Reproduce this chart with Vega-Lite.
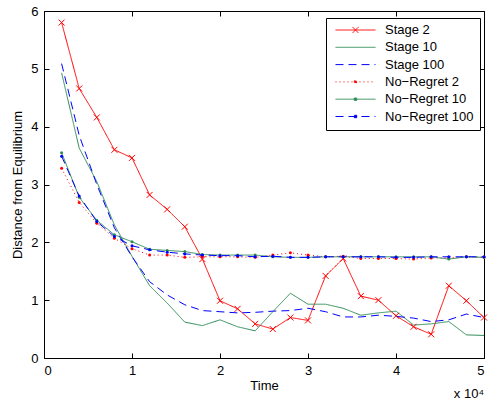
{
  "$schema": "https://vega.github.io/schema/vega-lite/v6.json",
  "width": 440,
  "height": 347,
  "autosize": {"type": "none"},
  "padding": {"left": 44, "top": 11, "right": 4, "bottom": 45},
  "background": "white",
  "config": {
    "font": "Liberation Sans",
    "view": {"stroke": "black", "strokeWidth": 1},
    "axis": {
      "grid": false,
      "domain": false,
      "tickColor": "black",
      "tickSize": -5,
      "tickWidth": 1,
      "labelColor": "black",
      "labelFont": "Liberation Sans",
      "labelFontSize": 13,
      "titleColor": "black",
      "titleFont": "Liberation Sans",
      "titleFontSize": 13,
      "titleFontWeight": "normal"
    },
    "legend": {
      "orient": "none",
      "legendX": 282,
      "legendY": 7,
      "strokeColor": "black",
      "fillColor": "white",
      "padding": 6,
      "labelFont": "Liberation Sans",
      "labelFontSize": 13,
      "labelColor": "black",
      "symbolSize": 1600,
      "clipHeight": 12,
      "rowPadding": 4.3,
      "symbolOffset": 3,
      "labelOffset": 9,
      "symbolStrokeWidth": 1
    }
  },
  "data": {
    "values": [
      {"series": "Stage 2", "time": 0.2, "dist": 5.80},
      {"series": "Stage 2", "time": 0.4, "dist": 4.66},
      {"series": "Stage 2", "time": 0.6, "dist": 4.16},
      {"series": "Stage 2", "time": 0.8, "dist": 3.60},
      {"series": "Stage 2", "time": 1.0, "dist": 3.46},
      {"series": "Stage 2", "time": 1.2, "dist": 2.82},
      {"series": "Stage 2", "time": 1.4, "dist": 2.57},
      {"series": "Stage 2", "time": 1.6, "dist": 2.27},
      {"series": "Stage 2", "time": 1.8, "dist": 1.71},
      {"series": "Stage 2", "time": 2.0, "dist": 0.99},
      {"series": "Stage 2", "time": 2.2, "dist": 0.85},
      {"series": "Stage 2", "time": 2.4, "dist": 0.59},
      {"series": "Stage 2", "time": 2.6, "dist": 0.50},
      {"series": "Stage 2", "time": 2.8, "dist": 0.70},
      {"series": "Stage 2", "time": 3.0, "dist": 0.65},
      {"series": "Stage 2", "time": 3.2, "dist": 1.42},
      {"series": "Stage 2", "time": 3.4, "dist": 1.72},
      {"series": "Stage 2", "time": 3.6, "dist": 1.07},
      {"series": "Stage 2", "time": 3.8, "dist": 1.00},
      {"series": "Stage 2", "time": 4.0, "dist": 0.73},
      {"series": "Stage 2", "time": 4.2, "dist": 0.54},
      {"series": "Stage 2", "time": 4.4, "dist": 0.41},
      {"series": "Stage 2", "time": 4.6, "dist": 1.25},
      {"series": "Stage 2", "time": 4.8, "dist": 0.99},
      {"series": "Stage 2", "time": 5.0, "dist": 0.70},
      {"series": "Stage 10", "time": 0.2, "dist": 4.93},
      {"series": "Stage 10", "time": 0.4, "dist": 3.63},
      {"series": "Stage 10", "time": 0.6, "dist": 3.05},
      {"series": "Stage 10", "time": 0.8, "dist": 2.30},
      {"series": "Stage 10", "time": 1.0, "dist": 1.76},
      {"series": "Stage 10", "time": 1.2, "dist": 1.25},
      {"series": "Stage 10", "time": 1.4, "dist": 0.95},
      {"series": "Stage 10", "time": 1.6, "dist": 0.62},
      {"series": "Stage 10", "time": 1.8, "dist": 0.56},
      {"series": "Stage 10", "time": 2.0, "dist": 0.66},
      {"series": "Stage 10", "time": 2.2, "dist": 0.54},
      {"series": "Stage 10", "time": 2.4, "dist": 0.47},
      {"series": "Stage 10", "time": 2.6, "dist": 0.80},
      {"series": "Stage 10", "time": 2.8, "dist": 1.12},
      {"series": "Stage 10", "time": 3.0, "dist": 0.93},
      {"series": "Stage 10", "time": 3.2, "dist": 0.93},
      {"series": "Stage 10", "time": 3.4, "dist": 0.86},
      {"series": "Stage 10", "time": 3.6, "dist": 0.74},
      {"series": "Stage 10", "time": 3.8, "dist": 0.78},
      {"series": "Stage 10", "time": 4.0, "dist": 0.81},
      {"series": "Stage 10", "time": 4.2, "dist": 0.57},
      {"series": "Stage 10", "time": 4.4, "dist": 0.59},
      {"series": "Stage 10", "time": 4.6, "dist": 0.63},
      {"series": "Stage 10", "time": 4.8, "dist": 0.40},
      {"series": "Stage 10", "time": 5.0, "dist": 0.39},
      {"series": "Stage 100", "time": 0.2, "dist": 5.09},
      {"series": "Stage 100", "time": 0.4, "dist": 3.85},
      {"series": "Stage 100", "time": 0.6, "dist": 3.00},
      {"series": "Stage 100", "time": 0.8, "dist": 2.25},
      {"series": "Stage 100", "time": 1.0, "dist": 1.75},
      {"series": "Stage 100", "time": 1.2, "dist": 1.32},
      {"series": "Stage 100", "time": 1.4, "dist": 1.09},
      {"series": "Stage 100", "time": 1.6, "dist": 0.92},
      {"series": "Stage 100", "time": 1.8, "dist": 0.82},
      {"series": "Stage 100", "time": 2.0, "dist": 0.80},
      {"series": "Stage 100", "time": 2.2, "dist": 0.78},
      {"series": "Stage 100", "time": 2.4, "dist": 0.79},
      {"series": "Stage 100", "time": 2.6, "dist": 0.81},
      {"series": "Stage 100", "time": 2.8, "dist": 0.82},
      {"series": "Stage 100", "time": 3.0, "dist": 0.86},
      {"series": "Stage 100", "time": 3.2, "dist": 0.80},
      {"series": "Stage 100", "time": 3.4, "dist": 0.71},
      {"series": "Stage 100", "time": 3.6, "dist": 0.71},
      {"series": "Stage 100", "time": 3.8, "dist": 0.74},
      {"series": "Stage 100", "time": 4.0, "dist": 0.72},
      {"series": "Stage 100", "time": 4.2, "dist": 0.69},
      {"series": "Stage 100", "time": 4.4, "dist": 0.63},
      {"series": "Stage 100", "time": 4.6, "dist": 0.66},
      {"series": "Stage 100", "time": 4.8, "dist": 0.76},
      {"series": "Stage 100", "time": 5.0, "dist": 0.70},
      {"series": "No−Regret 2", "time": 0.2, "dist": 3.28},
      {"series": "No−Regret 2", "time": 0.4, "dist": 2.69},
      {"series": "No−Regret 2", "time": 0.6, "dist": 2.33},
      {"series": "No−Regret 2", "time": 0.8, "dist": 2.07},
      {"series": "No−Regret 2", "time": 1.0, "dist": 1.89},
      {"series": "No−Regret 2", "time": 1.2, "dist": 1.78},
      {"series": "No−Regret 2", "time": 1.4, "dist": 1.78},
      {"series": "No−Regret 2", "time": 1.6, "dist": 1.74},
      {"series": "No−Regret 2", "time": 1.8, "dist": 1.75},
      {"series": "No−Regret 2", "time": 2.0, "dist": 1.75},
      {"series": "No−Regret 2", "time": 2.2, "dist": 1.75},
      {"series": "No−Regret 2", "time": 2.4, "dist": 1.74},
      {"series": "No−Regret 2", "time": 2.6, "dist": 1.78},
      {"series": "No−Regret 2", "time": 2.8, "dist": 1.82},
      {"series": "No−Regret 2", "time": 3.0, "dist": 1.78},
      {"series": "No−Regret 2", "time": 3.2, "dist": 1.75},
      {"series": "No−Regret 2", "time": 3.4, "dist": 1.76},
      {"series": "No−Regret 2", "time": 3.6, "dist": 1.72},
      {"series": "No−Regret 2", "time": 3.8, "dist": 1.72},
      {"series": "No−Regret 2", "time": 4.0, "dist": 1.72},
      {"series": "No−Regret 2", "time": 4.2, "dist": 1.71},
      {"series": "No−Regret 2", "time": 4.4, "dist": 1.73},
      {"series": "No−Regret 2", "time": 4.6, "dist": 1.73},
      {"series": "No−Regret 2", "time": 4.8, "dist": 1.75},
      {"series": "No−Regret 2", "time": 5.0, "dist": 1.74},
      {"series": "No−Regret 10", "time": 0.2, "dist": 3.55},
      {"series": "No−Regret 10", "time": 0.4, "dist": 2.78},
      {"series": "No−Regret 10", "time": 0.6, "dist": 2.38},
      {"series": "No−Regret 10", "time": 0.8, "dist": 2.13},
      {"series": "No−Regret 10", "time": 1.0, "dist": 2.01},
      {"series": "No−Regret 10", "time": 1.2, "dist": 1.88},
      {"series": "No−Regret 10", "time": 1.4, "dist": 1.86},
      {"series": "No−Regret 10", "time": 1.6, "dist": 1.84},
      {"series": "No−Regret 10", "time": 1.8, "dist": 1.79},
      {"series": "No−Regret 10", "time": 2.0, "dist": 1.78},
      {"series": "No−Regret 10", "time": 2.2, "dist": 1.78},
      {"series": "No−Regret 10", "time": 2.4, "dist": 1.78},
      {"series": "No−Regret 10", "time": 2.6, "dist": 1.75},
      {"series": "No−Regret 10", "time": 2.8, "dist": 1.74},
      {"series": "No−Regret 10", "time": 3.0, "dist": 1.74},
      {"series": "No−Regret 10", "time": 3.2, "dist": 1.75},
      {"series": "No−Regret 10", "time": 3.4, "dist": 1.75},
      {"series": "No−Regret 10", "time": 3.6, "dist": 1.75},
      {"series": "No−Regret 10", "time": 3.8, "dist": 1.75},
      {"series": "No−Regret 10", "time": 4.0, "dist": 1.75},
      {"series": "No−Regret 10", "time": 4.2, "dist": 1.75},
      {"series": "No−Regret 10", "time": 4.4, "dist": 1.75},
      {"series": "No−Regret 10", "time": 4.6, "dist": 1.71},
      {"series": "No−Regret 10", "time": 4.8, "dist": 1.75},
      {"series": "No−Regret 10", "time": 5.0, "dist": 1.74},
      {"series": "No−Regret 100", "time": 0.2, "dist": 3.49},
      {"series": "No−Regret 100", "time": 0.4, "dist": 2.80},
      {"series": "No−Regret 100", "time": 0.6, "dist": 2.36},
      {"series": "No−Regret 100", "time": 0.8, "dist": 2.10},
      {"series": "No−Regret 100", "time": 1.0, "dist": 1.94},
      {"series": "No−Regret 100", "time": 1.2, "dist": 1.87},
      {"series": "No−Regret 100", "time": 1.4, "dist": 1.83},
      {"series": "No−Regret 100", "time": 1.6, "dist": 1.80},
      {"series": "No−Regret 100", "time": 1.8, "dist": 1.78},
      {"series": "No−Regret 100", "time": 2.0, "dist": 1.77},
      {"series": "No−Regret 100", "time": 2.2, "dist": 1.77},
      {"series": "No−Regret 100", "time": 2.4, "dist": 1.75},
      {"series": "No−Regret 100", "time": 2.6, "dist": 1.76},
      {"series": "No−Regret 100", "time": 2.8, "dist": 1.74},
      {"series": "No−Regret 100", "time": 3.0, "dist": 1.74},
      {"series": "No−Regret 100", "time": 3.2, "dist": 1.75},
      {"series": "No−Regret 100", "time": 3.4, "dist": 1.75},
      {"series": "No−Regret 100", "time": 3.6, "dist": 1.75},
      {"series": "No−Regret 100", "time": 3.8, "dist": 1.75},
      {"series": "No−Regret 100", "time": 4.0, "dist": 1.74},
      {"series": "No−Regret 100", "time": 4.2, "dist": 1.74},
      {"series": "No−Regret 100", "time": 4.4, "dist": 1.75},
      {"series": "No−Regret 100", "time": 4.6, "dist": 1.75},
      {"series": "No−Regret 100", "time": 4.8, "dist": 1.75},
      {"series": "No−Regret 100", "time": 5.0, "dist": 1.75}
    ]
  },
  "resolve": {"axis": {"x": "independent", "y": "independent"}},
  "layer": [
    {
      "mark": {"type": "line", "strokeWidth": 1},
      "encoding": {
        "x": {
          "field": "time", "type": "quantitative",
          "scale": {"domain": [0, 5], "nice": false, "zero": false},
          "axis": {"orient": "bottom", "values": [0, 1, 2, 3, 4, 5], "title": "Time", "labelPadding": 11, "titlePadding": 2}
        },
        "y": {
          "field": "dist", "type": "quantitative",
          "scale": {"domain": [0, 6], "nice": false},
          "axis": {"orient": "left", "values": [0, 1, 2, 3, 4, 5, 6], "title": "Distance from Equilibrium", "labelPadding": 11, "titlePadding": 6}
        },
        "color": {
          "field": "series", "type": "nominal",
          "scale": {
            "domain": ["Stage 2", "Stage 10", "Stage 100", "No−Regret 2", "No−Regret 10", "No−Regret 100"],
            "range": ["#ff0000", "#2e8b57", "#0000ff", "#ff0000", "#2e8b57", "#0000ff"]
          },
          "legend": {"title": null}
        },
        "strokeDash": {
          "field": "series", "type": "nominal",
          "scale": {
            "domain": ["Stage 2", "Stage 10", "Stage 100", "No−Regret 2", "No−Regret 10", "No−Regret 100"],
            "range": [[1, 0], [1, 0], [8, 5], [1, 3], [1, 0], [8, 5]]
          },
          "legend": {"title": null}
        }
      }
    },
    {
      "transform": [{"filter": {"field": "series", "equal": "Stage 2"}}],
      "mark": {"type": "point", "shape": "M-1,-1L1,1M-1,1L1,-1", "size": 36, "filled": false, "strokeWidth": 1, "opacity": 1},
      "encoding": {
        "x": {"field": "time", "type": "quantitative", "axis": {"orient": "top", "values": [0, 1, 2, 3, 4, 5], "labels": false, "title": null}},
        "y": {"field": "dist", "type": "quantitative", "axis": {"orient": "right", "values": [0, 1, 2, 3, 4, 5, 6], "labels": false, "title": null}},
        "color": {"field": "series", "type": "nominal"}
      }
    },
    {
      "transform": [{"filter": {"field": "series", "oneOf": ["No−Regret 2", "No−Regret 10", "No−Regret 100"]}}],
      "mark": {"type": "point", "shape": "circle", "size": 9, "filled": true, "opacity": 1},
      "encoding": {
        "x": {"field": "time", "type": "quantitative", "axis": null},
        "y": {"field": "dist", "type": "quantitative", "axis": null},
        "color": {"field": "series", "type": "nominal"}
      }
    },
    {
      "transform": [{"filter": "false"}],
      "mark": {"type": "point", "filled": false},
      "encoding": {
        "shape": {
          "field": "series", "type": "nominal",
          "scale": {
            "domain": ["Stage 2", "Stage 10", "Stage 100", "No−Regret 2", "No−Regret 10", "No−Regret 100"],
            "range": [
              "M-1,0L1,0M-0.15,-0.15L0.15,0.15M-0.15,0.15L0.15,-0.15",
              "M-1,0L1,0",
              "M-1,0L1,0",
              "M-1,0L1,0M-0.06,-0.06L0.06,-0.06L0.06,0.06L-0.06,0.06Z",
              "M-1,0L1,0M-0.06,-0.06L0.06,-0.06L0.06,0.06L-0.06,0.06Z",
              "M-1,0L1,0M-0.06,-0.06L0.06,-0.06L0.06,0.06L-0.06,0.06Z"
            ]
          },
          "legend": {"title": null}
        }
      }
    },
    {
      "data": {"values": [{"label": "x 10⁴"}]},
      "mark": {"type": "text", "align": "right", "baseline": "alphabetic", "dy": 40, "dx": 0, "fontSize": 13, "font": "Liberation Sans", "color": "black"},
      "encoding": {
        "text": {"field": "label", "type": "nominal"},
        "x": {"datum": 5, "type": "quantitative", "axis": null},
        "y": {"datum": 0, "type": "quantitative", "axis": null}
      }
    }
  ]
}
